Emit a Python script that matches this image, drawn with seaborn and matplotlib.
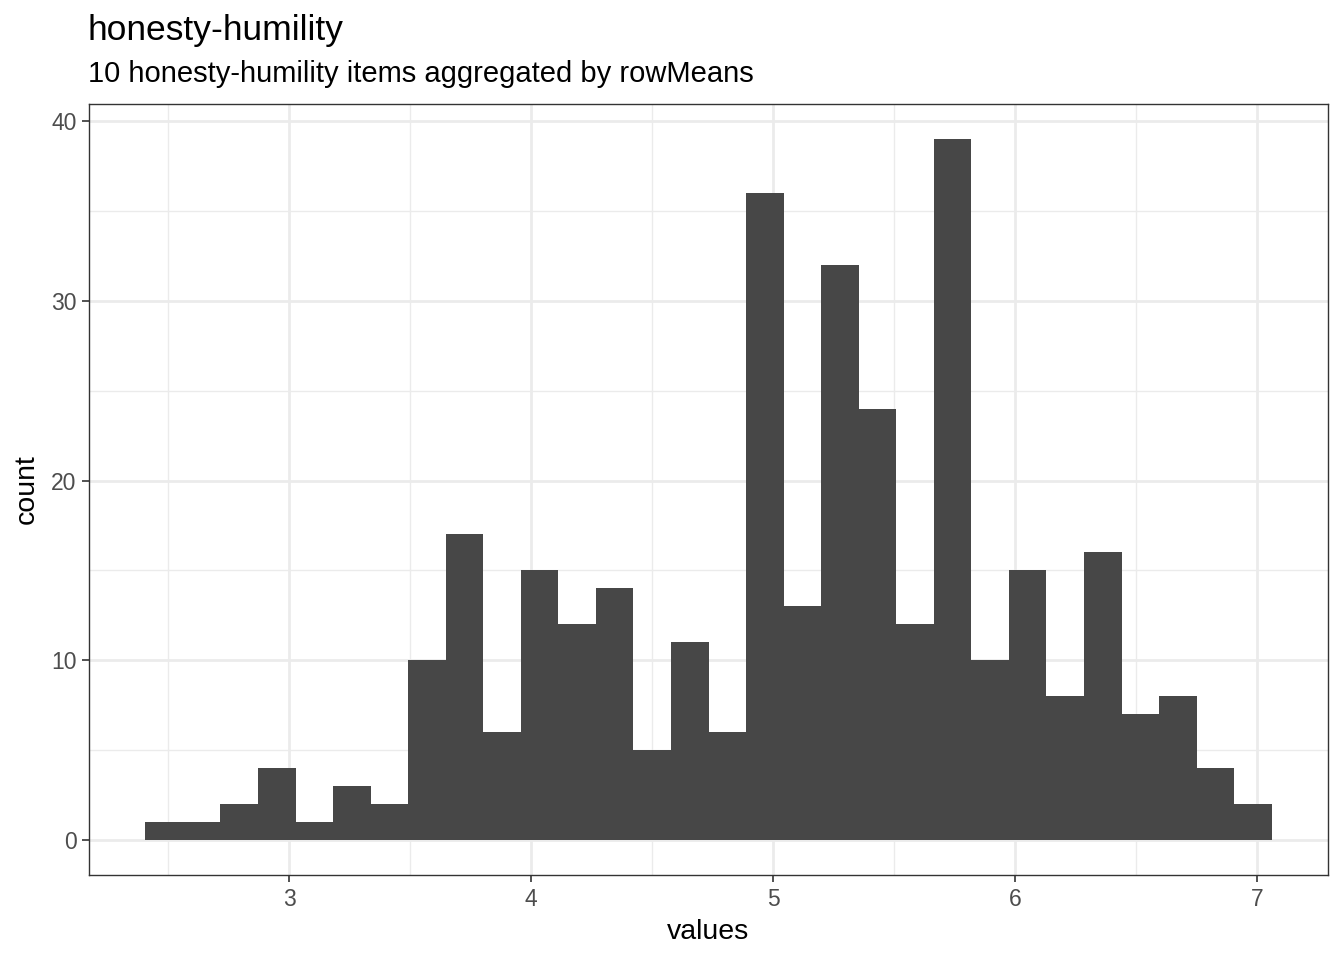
import numpy as np
import pandas as pd
import matplotlib
matplotlib.use("Agg")
import matplotlib.pyplot as plt
import seaborn as sns

# ggplot-style bins: 30 bins of width (7.0-2.5)/29, counts
bin_width = 4.5 / 29
first_edge = 15 * bin_width + bin_width / 2
bin_centers = [first_edge + (i + 0.5) * bin_width for i in range(30)]
counts = [1, 1, 2, 4, 1, 3, 2, 10, 17, 6, 15, 12, 14, 5, 11, 6,
          36, 13, 32, 24, 12, 39, 10, 15, 8, 16, 7, 8, 4, 2]
x_ticks = [3, 4, 5, 6, 7]
y_ticks = [0, 10, 20, 30, 40]

title = "honesty-humility"
subtitle = "10 honesty-humility items aggregated by rowMeans"

sns.set_style("white")
plt.rcParams['font.family'] = ['Liberation Sans', 'DejaVu Sans']

df = pd.DataFrame({"values": bin_centers, "count": counts})
lo = first_edge
hi = first_edge + 30 * bin_width
pad = 0.05 * (hi - lo)

fig = plt.figure(figsize=(13.44, 9.6), dpi=100)
ax = fig.add_axes([89 / 1344, 1 - 875 / 960, (1328 - 89) / 1344, (875 - 104) / 960])

sns.histplot(data=df, x="values", weights="count", bins=30, binrange=(lo, hi), ax=ax,
             color="#474747", alpha=1, edgecolor="none", linewidth=0, zorder=3)

ax.set_xlim(lo - pad, hi + pad)
ax.set_ylim(-1.95, 40.95)
ax.set_xticks(x_ticks)
ax.set_yticks(y_ticks)
ax.set_xticks([2.5, 3.5, 4.5, 5.5, 6.5], minor=True)
ax.set_yticks([5, 15, 25, 35], minor=True)
ax.grid(True, which="major", color="#EBEBEB", linewidth=2.0, zorder=0)
ax.grid(True, which="minor", color="#EBEBEB", linewidth=1.0, zorder=0)
ax.set_axisbelow(True)

ax.tick_params(axis="both", which="major", length=5, width=1.2, color="#333333",
               labelsize=16.5, labelcolor="#4D4D4D", pad=4, bottom=True, left=True)
ax.tick_params(axis="both", which="minor", length=0)
for s in ax.spines.values():
    s.set_color("#333333")
    s.set_linewidth(1.0)

ax.set_xlabel("values", fontsize=20.5, color="black", labelpad=6)
ax.set_ylabel("count", fontsize=20.5, color="black", labelpad=8)

fig.text(88 / 1344, 1 - 40 / 960, title, fontsize=25.5, color="black", ha="left", va="baseline")
fig.text(88 / 1344, 1 - 82 / 960, subtitle, fontsize=21, color="black", ha="left", va="baseline")

fig.savefig("out.png", dpi=100)
